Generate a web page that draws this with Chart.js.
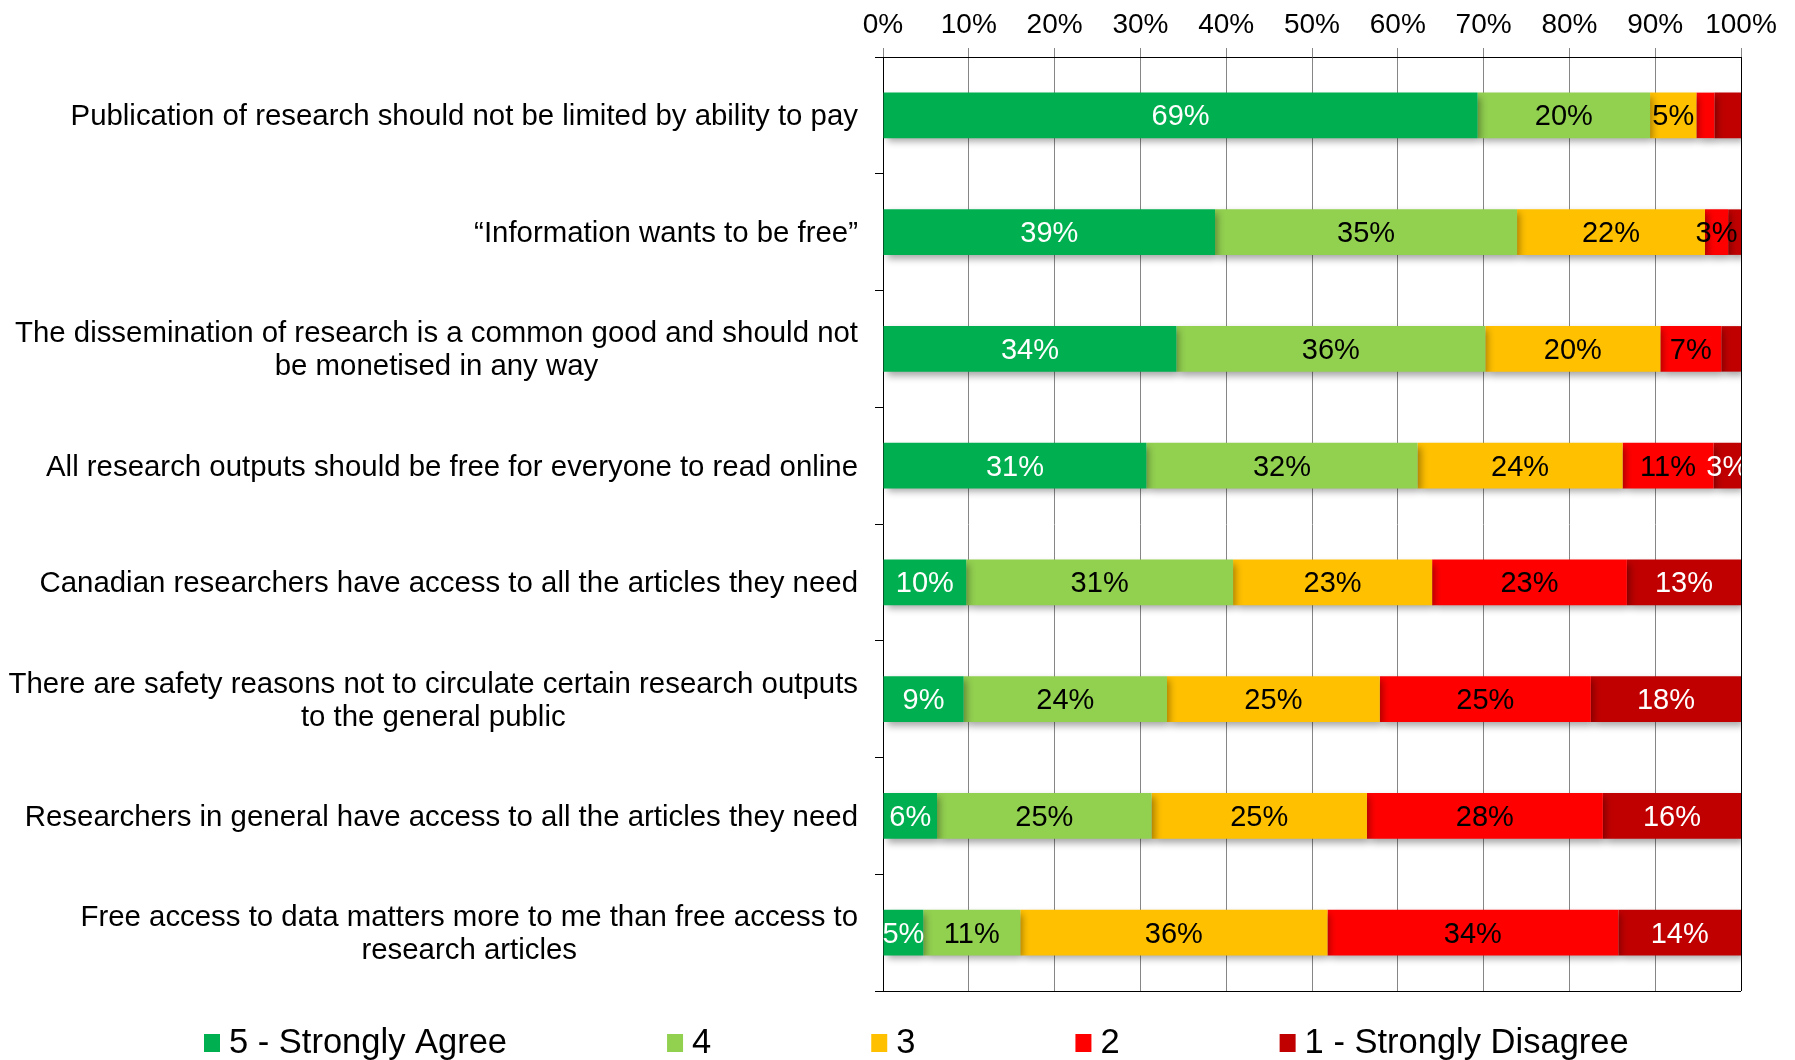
<!DOCTYPE html>
<html lang="en">
<head>
<meta charset="UTF-8" />
<title>Attitudes to access to research</title>
<script src="https://cdn.jsdelivr.net/npm/chart.js"></script>
<style>
    html, body { margin: 0; padding: 0; background: #fff; }
    #wrap { width: 1795px; height: 1060px; }
</style>
</head>
<body>
<div id="wrap"><canvas id="chart"></canvas></div>
<script>
    // statements (multi-line ones are split as in the original)
    const statements = [
        ['Publication of research should not be limited by ability to pay'],
        ['\u201CInformation wants to be free\u201D'],
        ['The dissemination of research is a common good and should not', 'be monetised in any way'],
        ['All research outputs should be free for everyone to read online'],
        ['Canadian researchers have access to all the articles they need'],
        ['There are safety reasons not to circulate certain research outputs', 'to the general public'],
        ['Researchers in general have access to all the articles they need'],
        ['Free access to data matters more to me than free access to', 'research articles']
    ];
    const seriesNames = ['5 - Strongly Agree', '4', '3', '2', '1 - Strongly Disagree'];
    const seriesColors = ['#00B050', '#92D050', '#FFC000', '#FF0000', '#C00000'];
    const labelColors = ['#FFFFFF', '#000000', '#000000', '#000000', '#FFFFFF'];

    // percentages per answer
    const strongAgree = [69.3, 38.7, 34.2, 30.7, 9.7, 9.4, 6.3, 4.7];
    const agree = [20.1, 35.2, 36.0, 31.6, 31.1, 23.7, 25.0, 11.3];
    const neutral = [5.4, 21.9, 20.4, 23.9, 23.2, 24.8, 25.1, 35.8];
    const disagree = [2.1, 2.7, 7.1, 10.6, 22.7, 24.6, 27.5, 33.9];
    const strongDisagree = [3.1, 1.5, 2.3, 3.2, 13.3, 17.5, 16.1, 14.3];

    // segments without a value label: [row, series]
    const hiddenLabels = [[0, 3], [0, 4], [1, 4], [2, 4]];

    const seriesData = [strongAgree, agree, neutral, disagree, strongDisagree];
    const FONT = '"Liberation Sans", Arial, sans-serif';

    // shadow under bars + value labels + category labels + legend + frame
    const decorPlugin = {
        id: 'decor',
        beforeDatasetsDraw(chart) {
            const ctx = chart.ctx;
            ctx.save();
            ctx.shadowColor = 'rgba(0,0,0,0.35)';
            ctx.shadowBlur = 7;
            ctx.shadowOffsetX = 3;
            ctx.shadowOffsetY = 4;
        },
        afterDatasetsDraw(chart) {
            const ctx = chart.ctx;
            ctx.restore();

            // value labels
            ctx.save();
            ctx.font = '29px ' + FONT;
            ctx.textAlign = 'center';
            ctx.textBaseline = 'middle';
            chart.data.datasets.forEach((ds, s) => {
                const meta = chart.getDatasetMeta(s);
                meta.data.forEach((bar, r) => {
                    if (hiddenLabels.some(h => h[0] === r && h[1] === s)) return;
                    const x = (bar.x + bar.base) / 2;
                    ctx.fillStyle = labelColors[s];
                    ctx.fillText(Math.round(ds.data[r]) + '%', x, bar.y + 2);
                });
            });
            ctx.restore();
        },
        afterDraw(chart) {
            const ctx = chart.ctx;
            const area = chart.chartArea;
            const yScale = chart.scales.y;

            // right and bottom frame
            ctx.save();
            ctx.strokeStyle = '#000';
            ctx.lineWidth = 1;
            ctx.beginPath();
            ctx.moveTo(Math.round(area.right) + 0.5, area.top);
            ctx.lineTo(Math.round(area.right) + 0.5, area.bottom);
            ctx.moveTo(area.left - 8, Math.round(area.bottom) + 0.5);
            ctx.lineTo(area.right, Math.round(area.bottom) + 0.5);
            ctx.stroke();
            ctx.restore();

            // category labels: block right aligned, lines centred
            ctx.save();
            ctx.font = '29.4px ' + FONT;
            ctx.fillStyle = '#000';
            ctx.textAlign = 'center';
            ctx.textBaseline = 'middle';
            const lineH = 33;
            statements.forEach((lines, i) => {
                const y = yScale.getPixelForValue(i) + 2;
                const widest = Math.max(...lines.map(l => ctx.measureText(l).width));
                const cx = area.left - 25 - widest / 2;
                lines.forEach((l, k) => {
                    ctx.fillText(l, cx, y + (k - (lines.length - 1) / 2) * lineH);
                });
            });
            ctx.restore();

            // legend
            ctx.save();
            ctx.font = '34.5px ' + FONT;
            ctx.textBaseline = 'middle';
            ctx.textAlign = 'left';
            let x = 204;
            const ly = 1043;
            seriesNames.forEach((name, s) => {
                ctx.fillStyle = seriesColors[s];
                ctx.fillRect(x, ly - 9, 16, 18);
                ctx.fillStyle = '#000';
                ctx.fillText(name, x + 25, ly);
                x += 25 + ctx.measureText(name).width + 160;
            });
            ctx.restore();
        }
    };

    new Chart(document.getElementById('chart'), {
        type: 'bar',
        data: {
            labels: statements.map(l => l.join(' ')),
            datasets: seriesNames.map((name, s) => ({
                label: name,
                data: seriesData[s],
                backgroundColor: seriesColors[s],
                borderWidth: 0,
                barPercentage: 0.39,
                categoryPercentage: 1.0
            }))
        },
        options: {
            indexAxis: 'y',
            responsive: true,
            maintainAspectRatio: false,
            animation: false,
            layout: { padding: { left: 0, top: 0, right: 54, bottom: 69 } },
            plugins: {
                legend: { display: false },
                tooltip: { enabled: false }
            },
            scales: {
                x: {
                    position: 'top',
                    stacked: true,
                    min: 0,
                    max: 100,
                    ticks: {
                        stepSize: 10,
                        color: '#000',
                        padding: 6,
                        font: { family: FONT, size: 28 },
                        callback: v => v + '%'
                    },
                    grid: { color: '#868686', tickLength: 9, lineWidth: 1 },
                    border: { color: '#000', width: 1 },
                    afterFit(scale) { scale.height = 57; }
                },
                y: {
                    stacked: true,
                    ticks: { display: false },
                    grid: {
                        offset: true,
                        drawOnChartArea: false,
                        drawTicks: true,
                        tickLength: 8,
                        color: '#000'
                    },
                    border: { color: '#000', width: 1 },
                    afterFit(scale) { scale.width = 883; }
                }
            }
        },
        plugins: [decorPlugin]
    });
</script>
</body>
</html>
